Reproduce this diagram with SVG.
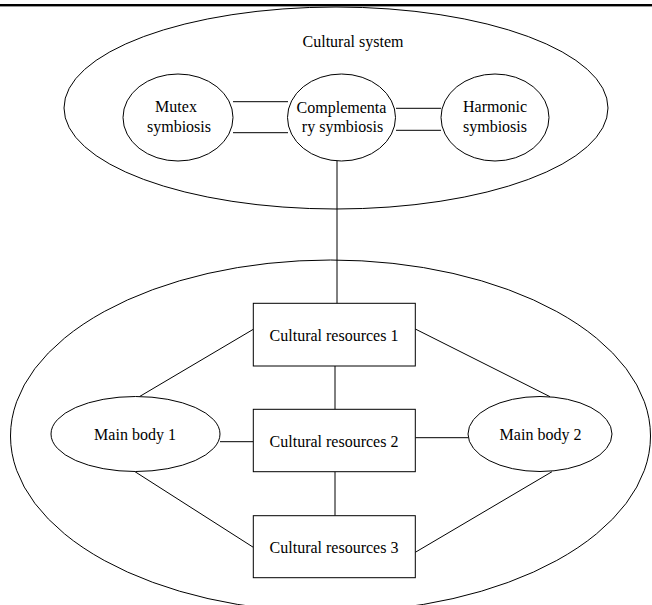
<svg xmlns="http://www.w3.org/2000/svg" width="652" height="605" viewBox="0 0 652 605">
<style>
.s{fill:none;stroke:#000;stroke-width:1}
.n{fill:#fff;stroke:#000;stroke-width:1}
.t{font-family:"Liberation Serif","Times New Roman",serif;font-size:16px;fill:#000;text-anchor:middle}
</style>
<rect width="652" height="605" fill="#fff"/>
<rect x="0" y="4" width="652" height="2.4" fill="#000"/>
<g id="cultural-system">
<ellipse class="s" cx="336" cy="108" rx="272" ry="101"/>
<text class="t" x="353" y="47">Cultural system</text>
</g>
<g id="outer-lower">
<ellipse class="s" cx="330.5" cy="436" rx="320" ry="176"/>
</g>
<g id="connectors" class="s">
<line x1="233" y1="101.7" x2="288" y2="101.7"/>
<line x1="233" y1="132.7" x2="288" y2="132.7"/>
<line x1="396" y1="108.3" x2="441" y2="108.3"/>
<line x1="396" y1="130.3" x2="441" y2="130.3"/>
<line x1="337" y1="161" x2="337" y2="303.5"/>
<line x1="335" y1="366" x2="335" y2="409.5"/>
<line x1="335" y1="471.7" x2="335" y2="515.7"/>
<line x1="253.3" y1="329.3" x2="139.3" y2="396.7"/>
<line x1="415.3" y1="329" x2="550" y2="396.7"/>
<line x1="220" y1="441.7" x2="253.3" y2="441.7"/>
<line x1="415.3" y1="437.7" x2="468.3" y2="437.7"/>
<line x1="135" y1="471.7" x2="253.3" y2="547.3"/>
<line x1="552" y1="471.7" x2="415.3" y2="552.3"/>
</g>
<g id="mutex">
<ellipse class="n" cx="178" cy="117.5" rx="55" ry="43.5"/>
<text class="t" x="176" y="112">Mutex</text>
<text class="t" x="179" y="131.5">symbiosis</text>
</g>
<g id="complementary">
<ellipse class="n" cx="341.5" cy="117.5" rx="54" ry="43.5"/>
<text class="t" x="341.5" y="112.5">Complementa</text>
<text class="t" x="342.5" y="131.5">ry symbiosis</text>
</g>
<g id="harmonic">
<ellipse class="n" cx="495" cy="117.5" rx="54" ry="43.5"/>
<text class="t" x="495" y="112">Harmonic</text>
<text class="t" x="495" y="131.5">symbiosis</text>
</g>
<g id="res1">
<rect class="n" x="253.3" y="303.3" width="162" height="62.7"/>
<text class="t" x="334" y="340.5">Cultural resources 1</text>
</g>
<g id="res2">
<rect class="n" x="253.3" y="409.3" width="162" height="62.4"/>
<text class="t" x="334" y="446.5">Cultural resources 2</text>
</g>
<g id="res3">
<rect class="n" x="253.3" y="515.7" width="162" height="62"/>
<text class="t" x="334" y="552.5">Cultural resources 3</text>
</g>
<g id="body1">
<ellipse class="n" cx="135.5" cy="434" rx="84.5" ry="37.5"/>
<text class="t" x="135" y="439.5">Main body 1</text>
</g>
<g id="body2">
<ellipse class="n" cx="540" cy="434" rx="72" ry="37.5"/>
<text class="t" x="540.5" y="439.5">Main body 2</text>
</g>
</svg>
